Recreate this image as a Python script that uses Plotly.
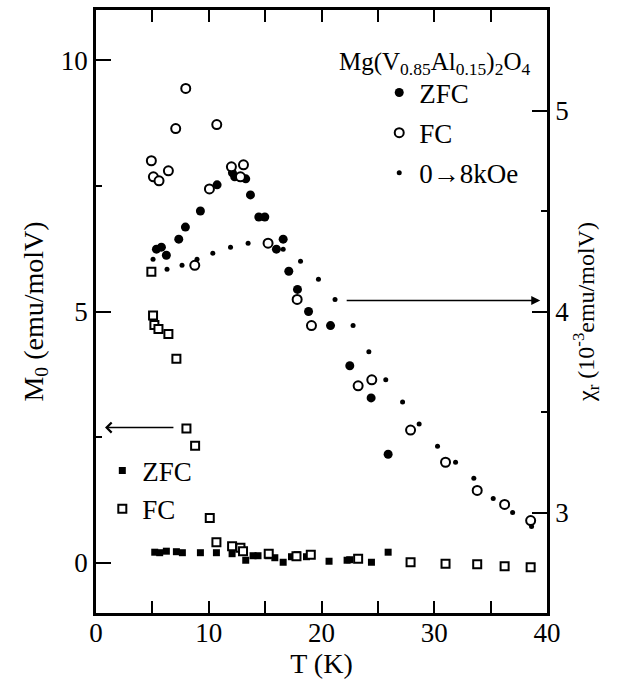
import plotly.graph_objects as go

# ---------------- data ----------------
# right axis: chi_r (10^-3 emu/molV)
zfc_T = [5.36, 5.80, 6.24, 7.34, 7.93, 9.26, 10.74, 12.10, 12.30, 13.28, 13.70, 14.44,
         14.97, 16.00, 16.60, 17.10, 17.87, 18.85, 20.80, 22.51, 24.40, 25.91]
zfc_chi = [4.31, 4.32, 4.28, 4.36, 4.42, 4.50, 4.63, 4.69, 4.67, 4.66, 4.58, 4.47,
           4.47, 4.31, 4.36, 4.20, 4.11, 4.00, 3.93, 3.73, 3.57, 3.29]

fc_T = [4.91, 5.09, 5.59, 6.42, 7.07, 7.96, 8.76, 10.06, 10.71, 12.01, 12.81, 13.08,
        15.26, 17.84, 19.11, 23.25, 24.46, 27.90, 31.00, 33.81, 36.24, 38.55]
fc_chi = [4.75, 4.67, 4.65, 4.70, 4.91, 5.11, 4.23, 4.61, 4.93, 4.72, 4.67, 4.73,
          4.34, 4.06, 3.93, 3.63, 3.66, 3.41, 3.25, 3.11, 3.04, 2.96]

field_T = [5.06, 6.30, 7.63, 8.96, 10.36, 11.93, 13.49, 16.60, 18.14, 19.73, 21.20, 22.80,
           24.20, 25.70, 27.19, 28.66, 30.29, 31.89, 33.51, 35.23, 36.95, 38.63]
field_chi = [4.26, 4.21, 4.23, 4.26, 4.29, 4.32, 4.34, 4.31, 4.25, 4.16, 4.06, 3.93,
             3.80, 3.66, 3.55, 3.44, 3.33, 3.25, 3.17, 3.07, 3.00, 2.93]

# left axis: M0 (emu/molV)
fcM_T = [4.91, 5.06, 5.18, 5.54, 6.42, 7.13, 8.02, 8.79, 10.09, 10.68, 12.07, 12.81,
         13.04, 15.32, 17.78, 19.05, 23.25, 27.90, 31.00, 33.81, 36.24, 38.55]
fcM_M = [5.79, 4.92, 4.73, 4.65, 4.55, 4.06, 2.67, 2.33, 0.89, 0.41, 0.33, 0.30,
         0.23, 0.18, 0.13, 0.16, 0.08, 0.01, -0.02, -0.03, -0.07, -0.09]

zfcM_T = [5.21, 5.65, 6.24, 7.13, 7.66, 9.26, 10.68, 12.07, 13.28, 13.93, 14.37, 15.26,
          15.86, 16.60, 17.34, 17.84, 18.67, 20.67, 22.27, 22.50, 24.43, 25.91]
zfcM_M = [0.21, 0.20, 0.23, 0.22, 0.20, 0.20, 0.20, 0.18, 0.05, 0.14, 0.14, 0.14,
          0.10, 0.01, 0.12, 0.16, 0.12, 0.03, 0.05, 0.06, 0.01, 0.21]

x_ticks = [0, 10, 20, 30, 40]
left_ticks = [0, 5, 10]
right_ticks = [3, 4, 5]

# arrow annotations (axis pointers)
left_arrow = dict(head_T=0.8, tail_T=7.0, M=2.69)
right_arrow = dict(head_T=39.4, tail_T=22.1, chi=4.055)

FONT = "Liberation Serif"

fig = go.Figure()

# squares (left axis)
fig.add_trace(go.Scatter(x=zfcM_T, y=zfcM_M, mode="markers", name="ZFC",
                         marker=dict(symbol="square", size=7, color="black"),
                         yaxis="y", legend="legend2", legendgroup="a"))
fig.add_trace(go.Scatter(x=fcM_T, y=fcM_M, mode="markers", name="FC",
                         marker=dict(symbol="square", size=8, color="white",
                                     line=dict(color="black", width=2)),
                         yaxis="y", legend="legend2", legendgroup="b"))

# circles (right axis)
fig.add_trace(go.Scatter(x=zfc_T, y=zfc_chi, mode="markers", name="ZFC",
                         marker=dict(symbol="circle", size=9, color="black"),
                         yaxis="y2", legend="legend", legendgroup="c"))
fig.add_trace(go.Scatter(x=fc_T, y=fc_chi, mode="markers", name="FC",
                         marker=dict(symbol="circle", size=9, color="white",
                                     line=dict(color="black", width=2)),
                         yaxis="y2", legend="legend", legendgroup="d"))
fig.add_trace(go.Scatter(x=field_T, y=field_chi, mode="markers", name="0\u21928kOe",
                         marker=dict(symbol="circle", size=5, color="black"),
                         yaxis="y2", legend="legend", legendgroup="e"))

axis_common = dict(showgrid=False, zeroline=False, showline=True, linecolor="black",
                   linewidth=2.5, ticks="inside", tickcolor="black", tickwidth=2,
                   tickfont=dict(family=FONT, size=27, color="black"))

fig.update_layout(
    width=634, height=691,
    margin=dict(l=96, r=87, t=7, b=78),
    plot_bgcolor="white", paper_bgcolor="white",
    font=dict(family=FONT, size=27, color="black"),
    xaxis=dict(range=[0, 40], tickvals=x_ticks, ticklen=12, mirror="ticks",
               ticklabelstandoff=-6,
               minor=dict(dtick=5, tick0=0, ticks="inside", ticklen=12, tickwidth=2,
                          tickcolor="black"),
               title=dict(text="T (K)", font=dict(family=FONT, size=28), standoff=2),
               **axis_common),
    yaxis=dict(range=[-1, 11], tickvals=left_ticks, ticklen=15,
               minor=dict(dtick=2.5, tick0=0, ticks="inside", ticklen=6, tickwidth=2,
                          tickcolor="black"),
               title=dict(text="M<sub>0</sub> (emu/molV)", font=dict(family=FONT, size=28),
                          standoff=10),
               **axis_common),
    yaxis2=dict(range=[2.5, 5.5], tickvals=right_ticks, ticklen=15, overlaying="y",
                side="right",
                minor=dict(dtick=0.5, tick0=0, ticks="inside", ticklen=6, tickwidth=2,
                           tickcolor="black"),
                title=dict(text="\u03c7<sub>r</sub> (10<sup>-3</sup>emu/molV)",
                           font=dict(family=FONT, size=24), standoff=6),
                **axis_common),
    legend=dict(x=0.628, y=0.903, xanchor="left", yanchor="top",
                bgcolor="rgba(0,0,0,0)", font=dict(family=FONT, size=27),
                tracegroupgap=2, itemwidth=30),
    legend2=dict(x=0.014, y=0.276, xanchor="left", yanchor="top",
                 bgcolor="rgba(0,0,0,0)", font=dict(family=FONT, size=27),
                 tracegroupgap=0, itemwidth=30),
    annotations=[
        dict(text="Mg(V<sub>0.85</sub>Al<sub>0.15</sub>)<sub>2</sub>O<sub>4</sub>",
             xref="paper", yref="paper", x=0.535, y=0.912, xanchor="left",
             yanchor="middle", showarrow=False, font=dict(family=FONT, size=25)),
        dict(text="", x=left_arrow["head_T"], y=left_arrow["M"], xref="x", yref="y",
             ax=left_arrow["tail_T"], ay=left_arrow["M"], axref="x", ayref="y",
             showarrow=True, arrowhead=4, arrowsize=1.3, arrowwidth=1.5,
             arrowcolor="black"),
        dict(text="", x=right_arrow["head_T"], y=right_arrow["chi"], xref="x", yref="y2",
             ax=right_arrow["tail_T"], ay=right_arrow["chi"], axref="x", ayref="y2",
             showarrow=True, arrowhead=2, arrowsize=1.2, arrowwidth=1.5,
             arrowcolor="black"),
    ],
)

fig.write_html("out.html")
